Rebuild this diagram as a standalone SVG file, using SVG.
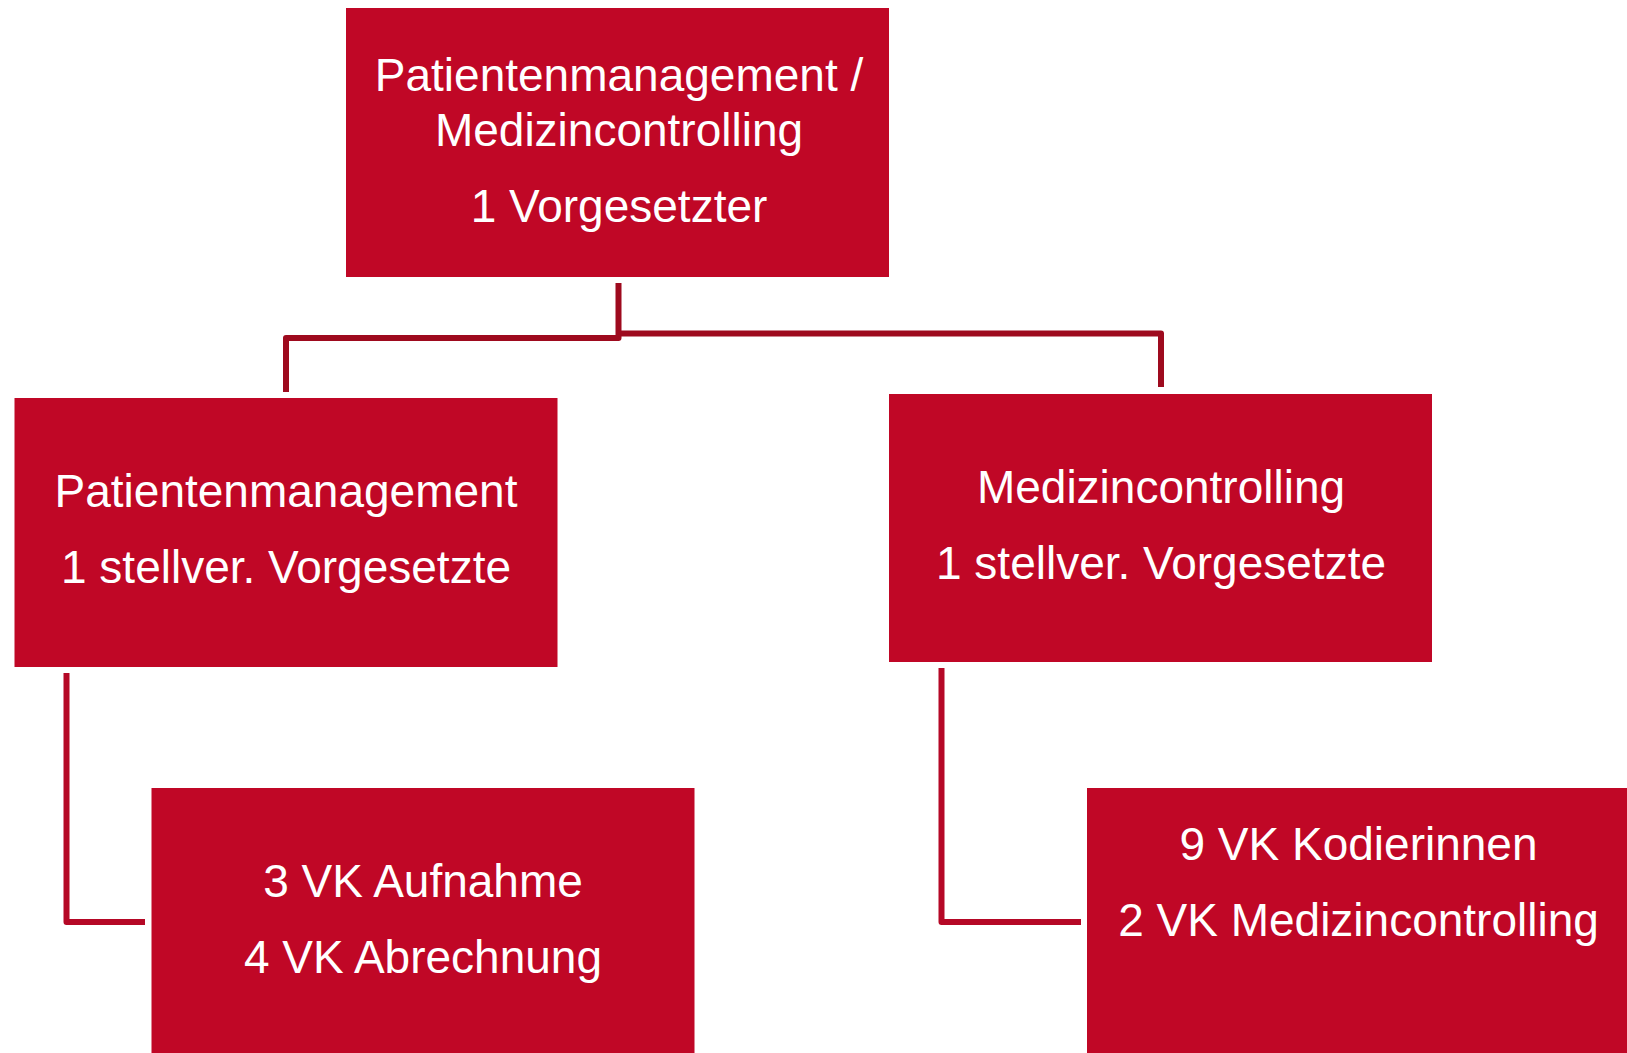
<svg xmlns="http://www.w3.org/2000/svg" width="1627" height="1053" viewBox="0 0 1627 1053">
<style>
.box{fill:#C00726;}
.t{font-family:"Liberation Sans",Arial,sans-serif;font-size:46px;fill:#FFFFFF;text-anchor:middle;}
.c1{fill:none;stroke:#9E0A1E;stroke-width:6;stroke-linejoin:round;}
.c2{fill:none;stroke:#B50826;stroke-width:6;stroke-linejoin:round;}
</style>
<rect width="1627" height="1053" fill="#FFFFFF"/>
<g id="connectors">
<path class="c1" d="M618.5,283 V338 H286 V392"/>
<path class="c1" d="M618.5,333.5 H1161 V387"/>
<path class="c2" d="M66.5,673 V922 H145"/>
<path class="c2" d="M941.5,668 V922 H1081"/>
</g>
<g id="node-top">
<rect class="box" x="346" y="8" width="543" height="269"/>
<text class="t" x="619" y="91">Patientenmanagement /</text>
<text class="t" x="619" y="146">Medizincontrolling</text>
<text class="t" x="619" y="222">1 Vorgesetzter</text>
</g>
<g id="node-patientenmanagement">
<rect class="box" x="14.5" y="398" width="543" height="269"/>
<text class="t" x="286" y="507">Patientenmanagement</text>
<text class="t" x="286" y="583">1 stellver. Vorgesetzte</text>
</g>
<g id="node-medizincontrolling">
<rect class="box" x="889" y="394" width="543" height="268"/>
<text class="t" x="1161" y="503">Medizincontrolling</text>
<text class="t" x="1161" y="579">1 stellver. Vorgesetzte</text>
</g>
<g id="node-aufnahme">
<rect class="box" x="151.5" y="788" width="543" height="269"/>
<text class="t" x="423" y="897">3 VK Aufnahme</text>
<text class="t" x="423" y="973">4 VK Abrechnung</text>
</g>
<g id="node-kodierinnen">
<rect class="box" x="1087" y="788" width="543" height="269"/>
<text class="t" x="1358.5" y="860">9 VK Kodierinnen</text>
<text class="t" x="1358.5" y="936">2 VK Medizincontrolling</text>
</g>
</svg>
